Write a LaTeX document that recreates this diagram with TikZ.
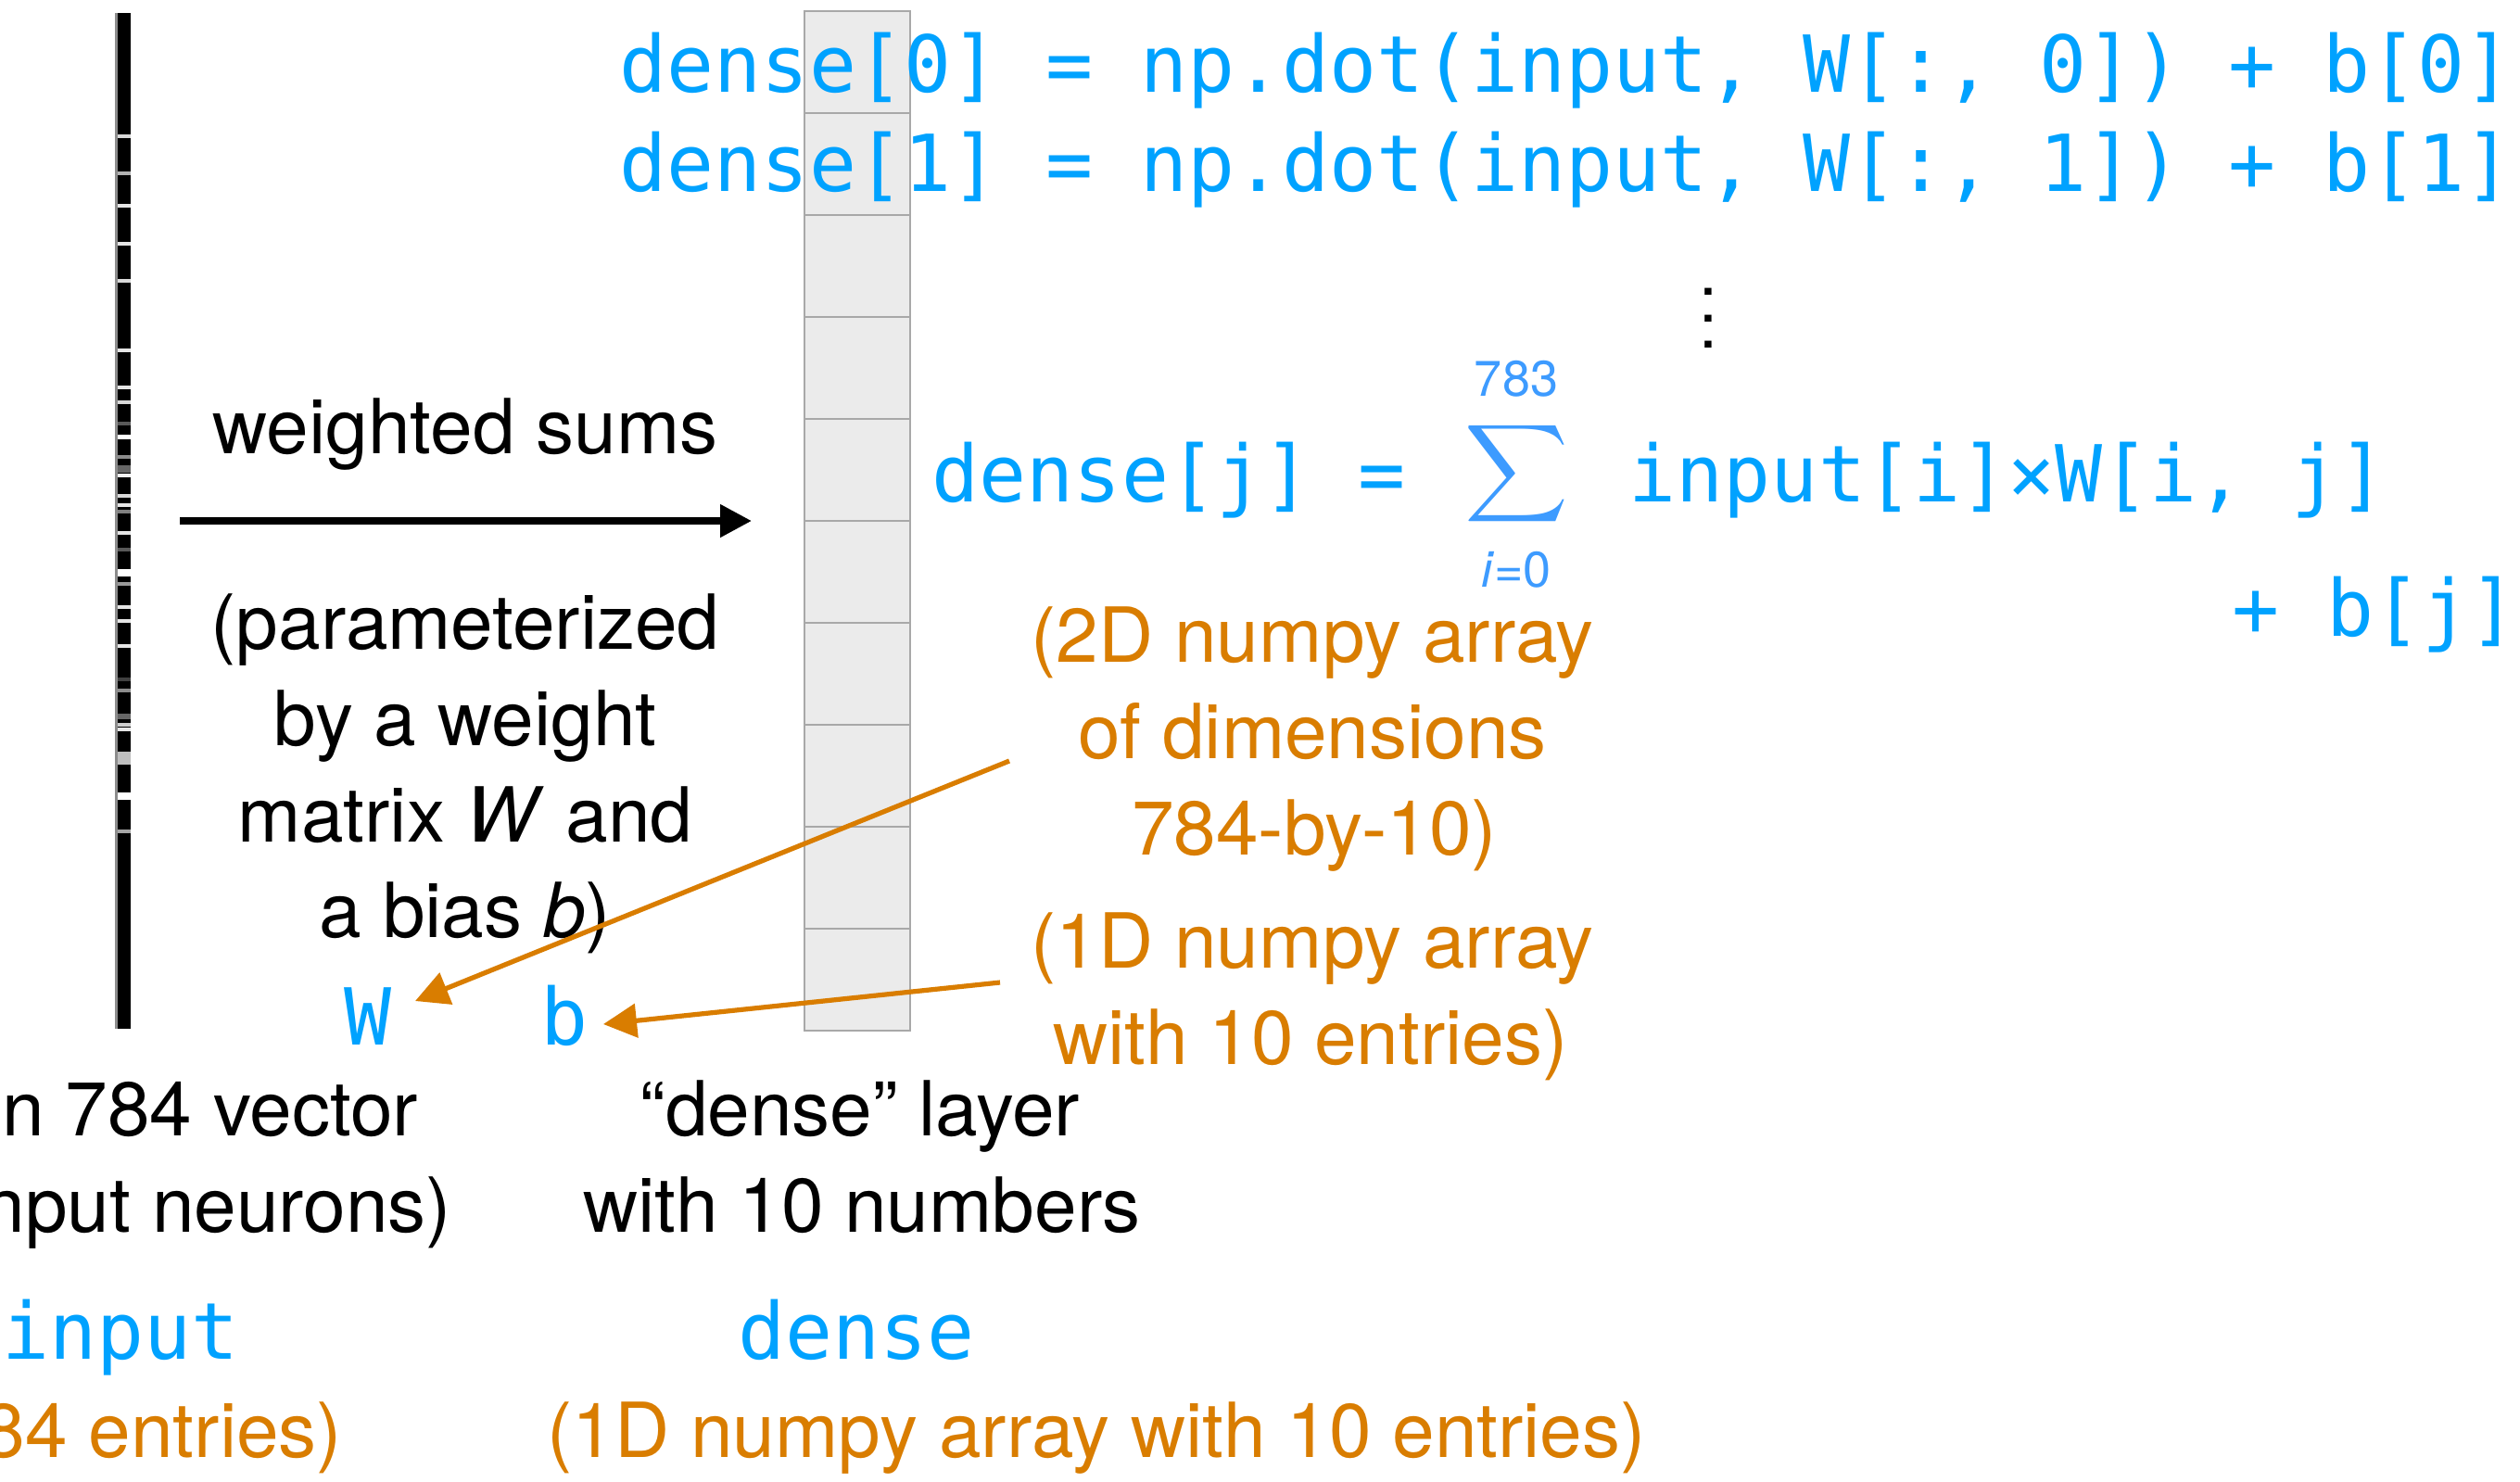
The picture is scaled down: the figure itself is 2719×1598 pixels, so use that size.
\documentclass[tikz,border=0pt]{standalone}
\usepackage{fontspec}
\usepackage{graphicx}
\setmainfont{TeX Gyre Heros}
\setmonofont{DejaVu Sans Mono}
\usetikzlibrary{arrows.meta}
\definecolor{codeblue}{HTML}{00A2FF}
\definecolor{sumblue}{HTML}{3D9BFF}
\definecolor{noteorange}{HTML}{D97D00}
\definecolor{cellfill}{HTML}{EBEBEB}
\definecolor{cellline}{HTML}{A8A8A8}
\begin{document}
\begin{tikzpicture}[x=0.25pt, y=-0.25pt,
  lbl/.style={inner sep=0pt, anchor=base, font=\fontsize{20.5}{24}\selectfont},
  note/.style={lbl, text=noteorange},
  code/.style={inner sep=0pt, anchor=base west, text=codeblue, font=\fontsize{21.2}{25}\ttfamily},
  small/.style={inner sep=0pt, anchor=base, text=sumblue, font=\fontsize{13.5}{16}\selectfont},
  blackarrow/.style={draw=black, line width=1.9pt, -{Triangle[length=8.5pt,width=8.5pt]}},
  orangearrow/.style={draw=noteorange, line width=1.3pt, -{Triangle[length=9pt,width=9pt]}},
  cellbox/.style={fill=cellfill, draw=cellline, line width=0.5pt}]
\useasboundingbox (0,0) rectangle (2719,1598);
\fill[white] (0,0) rectangle (2719,1598);

% input vector bar
\fill[black!45] (124,14) rectangle (128,1110);
\fill[black] (127,14) rectangle (141,1110);
\foreach \yy/\hh/\gg in {147/4/85, 187/4/70, 222/4/90, 263/4/90, 303/4/85, 378/4/90,
  418/4/90, 434/4/85, 457/4/35, 471/5/100, 493/4/55, 506/8/40, 513/4/95, 535/4/85,
  545/4/90, 552/4/50, 575/4/90, 593/4/35, 618/8/100, 630/4/60, 655/4/90, 670/4/90,
  697/4/90, 733/4/25, 745/4/55, 773/6/40, 782/4/80, 787/4/90, 818/14/75, 859/8/100, 897/4/65}
  \fill[white!\gg!black] (127,\yy-\hh/2) rectangle (141,\yy+\hh/2);

% dense column
\foreach \k in {0,...,9}
  \node[cellbox, inner sep=0pt, minimum width=28.5pt, minimum height=27.5pt, anchor=north west]
    (cell\k) at (867,11+110*\k) {};

% code lines
\node[code] (line0) at (668,99) {dense[0] = np.dot(input, W[:, 0]) + b[0]};
\node[code] (line1) at (668,206) {dense[1] = np.dot(input, W[:, 1]) + b[1]};
\node[inner sep=0pt] (vdots) at (1843,322) {\fontsize{10}{12}\selectfont\scalebox{1.78}{$\vdots$}};
\node[code] (densej) at (1005,541) {dense[j] =};
\node[inner sep=0pt, text=sumblue] (sigma) at (1636,511) {\resizebox*{28pt}{29.5pt}{$\displaystyle\sum$}};
\node[small] (upper) at (1636,427) {783};
\node[small] (lower) at (1636,633) {\textit{i}=0};
\node[code] (prod) at (1757,541) {input[i]×W[i, j]};
\node[code] (plusb) at (2408,686) {+ b[j]};

% middle labels
\node[lbl] (ws) at (502,489) {weighted sums};
\coordinate (wsstart) at (194,562);
\coordinate (wsend) at (811,562);
\draw[blackarrow] (wsstart) -- (wsend);
\node[lbl] (p1) at (502,700) {(parameterized};
\node[lbl] (p2) at (502,804) {by a weight};
\node[lbl] (p3) at (502,908) {matrix \textit{W} and};
\node[lbl] (p4) at (502,1011) {a bias \textit{b})};

% W and b
\node[code, anchor=base] (Wlbl) at (397,1127) {W};
\node[code, anchor=base] (blbl) at (609,1127) {b};

% orange notes
\node[note] (o1) at (1416,714) {(2D numpy array};
\node[note] (o2) at (1416,818) {of dimensions};
\node[note] (o3) at (1418,922) {784-by-10)};
\node[note] (o4) at (1416,1044) {(1D numpy array};
\node[note] (o5) at (1414,1148) {with 10 entries)};

\coordinate (a1s) at (1089,821);
\coordinate (a1e) at (448,1080);
\coordinate (a2s) at (1079,1060);
\coordinate (a2e) at (651,1105);
\draw[orangearrow] (a1s) -- (a1e);
\draw[orangearrow] (a2s) -- (a2e);

% bottom labels
\node[lbl, anchor=base east] (v1) at (452,1225) {n 784 vector};
\node[lbl, anchor=base east] (v2) at (488,1329) {nput neurons)};
\node[lbl] (d1) at (928,1225) {“dense” layer};
\node[lbl] (d2) at (930,1329) {with 10 numbers};
\node[code] (inputname) at (2,1466) {input};
\node[code, anchor=base] (densename) at (924,1466) {dense};
\node[note, anchor=base east] (e1) at (370,1572) {84 entries)};
\node[note] (e2) at (1183,1572) {(1D numpy array with 10 entries)};
\end{tikzpicture}
\end{document}
